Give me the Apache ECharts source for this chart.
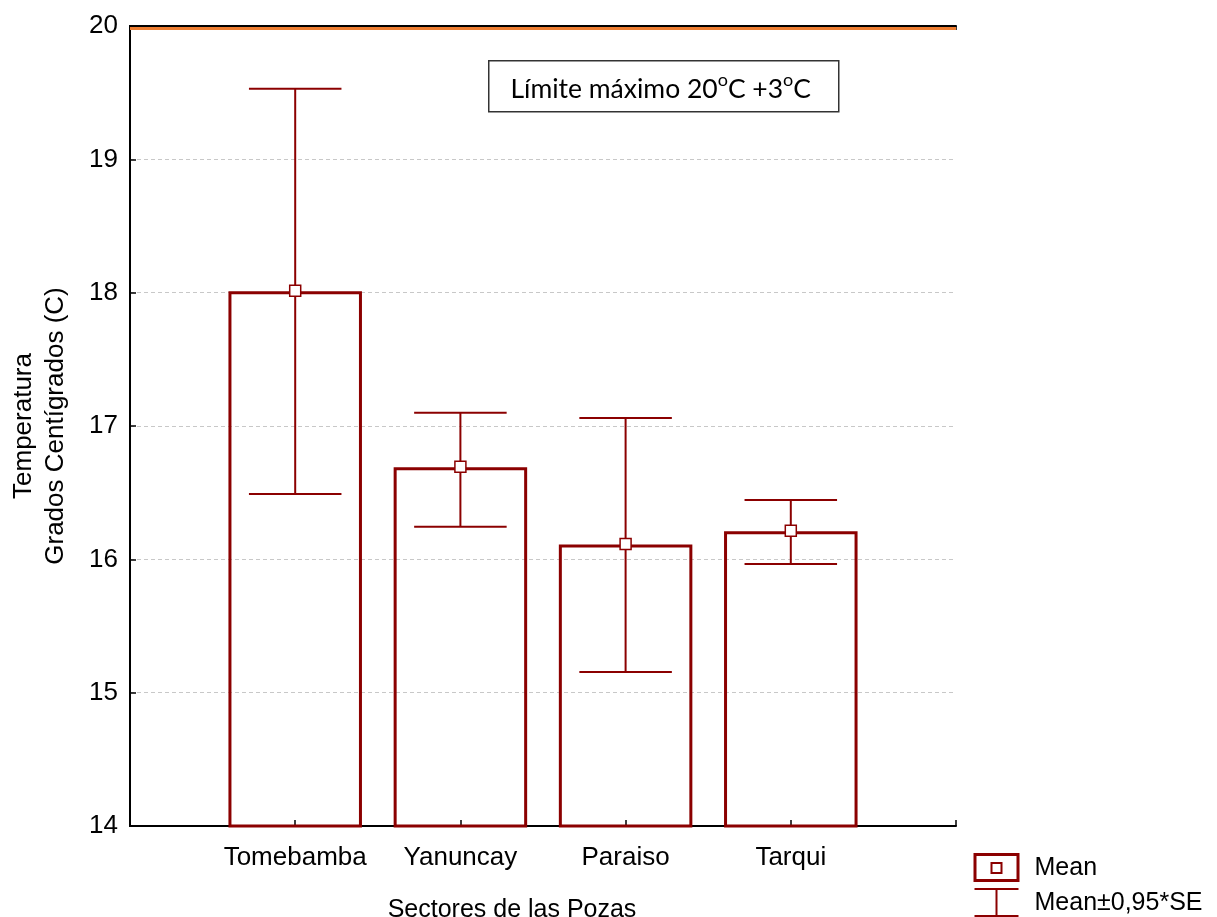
<!DOCTYPE html>
<html>
<head>
<meta charset="utf-8">
<script src="https://cdn.jsdelivr.net/npm/echarts@6/dist/echarts.min.js"></script>
<style>
  html, body { margin: 0; padding: 0; background: #fff; }
  #chart { width: 1217px; height: 917px; }
</style>
</head>
<body>
<div id="chart"></div>
<script>
// ---- data ----
const categories = ['Tomebamba', 'Yanuncay', 'Paraiso', 'Tarqui'];
const means = [18.0, 16.68, 16.1, 16.2];
const lowerSE = [16.49, 16.245, 15.155, 15.965];
const upperSE = [19.53, 17.10, 17.06, 16.445];
const limitValue = 20;
const yMin = 14, yMax = 20, yStep = 1;
const xMin = 0, xMax = 5;
const xAxisTitle = 'Sectores de las Pozas';
const yAxisTitle = 'Temperatura\nGrados Centígrados (C)';
const legendLabels = ['Mean', 'Mean±0,95*SE'];

const RED = '#8b0000';
const FONT = 'Liberation Sans, Arial, sans-serif';

const chart = echarts.init(document.getElementById('chart'), null, { renderer: 'canvas' });

const barData = means.map((m, i) => [i + 1, m]);
const errData = means.map((m, i) => [i + 1, lowerSE[i], upperSE[i]]);

const option = {
  backgroundColor: '#fff',
  animation: false,
  grid: { left: 130, right: 261, top: 26, bottom: 91, containLabel: false, outerBoundsMode: 'none' },
  xAxis: [
    {
      type: 'value', min: xMin, max: xMax, interval: 1, position: 'bottom',
      name: xAxisTitle, nameLocation: 'middle', nameGap: 72,
      nameTextStyle: { fontFamily: FONT, fontSize: 25, color: '#000', padding: [0, 62, 0, 0] },
      axisLine: { lineStyle: { color: '#000', width: 2 } },
      axisTick: { inside: true, length: 6, lineStyle: { color: '#000', width: 1.5 } },
      axisLabel: {
        margin: 19, fontFamily: FONT, fontSize: 26, color: '#000',
        formatter: v => categories[v - 1] || ''
      },
      splitLine: { show: false }
    },
    {
      type: 'value', min: xMin, max: xMax, interval: 1, position: 'top',
      axisLine: { lineStyle: { color: '#000', width: 2 } },
      axisTick: { inside: true, length: 4, lineStyle: { color: '#000', width: 1.5 } },
      axisLabel: { show: false },
      splitLine: { show: false }
    }
  ],
  yAxis: [
    {
      type: 'value', min: yMin, max: yMax, interval: yStep, position: 'left',
      name: yAxisTitle, nameLocation: 'middle', nameGap: 58,
      nameTextStyle: { fontFamily: FONT, fontSize: 26, color: '#000', lineHeight: 32 },
      axisLine: { show: true, lineStyle: { color: '#000', width: 2 } },
      axisTick: { show: true, inside: true, length: 6, lineStyle: { color: '#000', width: 1.5 } },
      axisLabel: { margin: 12, fontFamily: FONT, fontSize: 26, color: '#000' },
      splitLine: { show: true, lineStyle: { color: '#c8c8c8', type: [4, 3], width: 1 } }
    },
    {
      type: 'value', min: yMin, max: yMax, interval: yStep, position: 'right',
      axisLine: { show: true, lineStyle: { color: '#000', width: 2 } },
      axisTick: { show: false },
      axisLabel: { show: false },
      splitLine: { show: false }
    }
  ],
  series: [
    {
      type: 'custom', name: 'bars', data: barData, z: 3,
      encode: { x: 0, y: 1 },
      renderItem: (params, api) => {
        const x = api.value(0), m = api.value(1);
        const top = api.coord([x, m]);
        const base = api.coord([x, yMin]);
        const w = api.size([0.79, 0])[0];
        return {
          type: 'rect',
          shape: { x: top[0] - w / 2, y: top[1], width: w, height: base[1] - top[1] },
          style: { fill: 'none', stroke: RED, lineWidth: 3 }
        };
      }
    },
    {
      type: 'custom', name: 'errors', data: errData, z: 4,
      encode: { x: 0, y: [1, 2] },
      renderItem: (params, api) => {
        const x = api.value(0);
        const lo = api.coord([x, api.value(1)]);
        const hi = api.coord([x, api.value(2)]);
        const hw = api.size([0.56, 0])[0] / 2;
        const st = { stroke: RED, lineWidth: 2 };
        return {
          type: 'group',
          children: [
            { type: 'line', shape: { x1: lo[0], y1: lo[1], x2: hi[0], y2: hi[1] }, style: st },
            { type: 'line', shape: { x1: lo[0] - hw, y1: lo[1], x2: lo[0] + hw, y2: lo[1] }, style: st },
            { type: 'line', shape: { x1: hi[0] - hw, y1: hi[1], x2: hi[0] + hw, y2: hi[1] }, style: st }
          ]
        };
      }
    },
    {
      type: 'scatter', name: 'Mean', data: barData, z: 5,
      symbol: 'rect', symbolSize: 11, symbolOffset: [0, -2],
      itemStyle: { color: '#fff', borderColor: RED, borderWidth: 1.5, opacity: 1 },
      emphasis: { disabled: true }
    },
    {
      type: 'custom', name: 'limit', data: [[xMin, limitValue]], z: 2,
      encode: { x: 0, y: 1 },
      renderItem: (params, api) => {
        const v = api.value(1);
        const a = api.coord([xMin, v]);
        const b = api.coord([xMax, v]);
        return {
          type: 'line',
          shape: { x1: a[0], y1: a[1] + 2.5, x2: b[0], y2: b[1] + 2.5 },
          style: { stroke: '#ed7d31', lineWidth: 3 }
        };
      }
    }
  ],
  graphic: [
    {
      type: 'group', left: 488, top: 60,
      children: [
        { type: 'rect', shape: { x: 0, y: 0, width: 350, height: 51 },
          style: { fill: '#fff', stroke: '#333', lineWidth: 1.5 } },
        { type: 'text', x: 172, y: 22,
          style: {
            text: '{n|Límite máximo 20}{sup|o}{n|C +3}{sup|o}{n|C}',
            align: 'center', verticalAlign: 'middle',
            fontFamily: 'Lato, sans-serif', fontSize: 26.5, fill: '#000',
            rich: {
              n: { fontFamily: 'Lato, sans-serif', fontSize: 26.5, lineHeight: 40, verticalAlign: 'bottom' },
              sup: { fontFamily: 'Lato, sans-serif', fontSize: 18, verticalAlign: 'top', padding: [8, 0, 0, 0] }
            }
          } }
      ]
    },
    {
      type: 'group', left: 972, top: 853,
      children: [
        { type: 'rect', shape: { x: 1.5, y: 1.5, width: 43, height: 26 },
          style: { fill: '#fff', stroke: RED, lineWidth: 3 } },
        { type: 'rect', shape: { x: 18, y: 10, width: 10, height: 10 },
          style: { fill: '#fff', stroke: RED, lineWidth: 2 } },
        { type: 'line', shape: { x1: 1, y1: 36, x2: 45, y2: 36 }, style: { stroke: RED, lineWidth: 2 } },
        { type: 'line', shape: { x1: 1, y1: 63, x2: 45, y2: 63 }, style: { stroke: RED, lineWidth: 2 } },
        { type: 'line', shape: { x1: 23, y1: 36, x2: 23, y2: 63 }, style: { stroke: RED, lineWidth: 2 } },
        { type: 'text', x: 61, y: 15,
          style: { text: legendLabels[0], fontFamily: FONT, fontSize: 25, fill: '#000', verticalAlign: 'middle' } },
        { type: 'text', x: 61, y: 50,
          style: { text: legendLabels[1], fontFamily: FONT, fontSize: 25, fill: '#000', verticalAlign: 'middle' } }
      ]
    }
  ]
};

chart.setOption(option);
</script>
</body>
</html>
